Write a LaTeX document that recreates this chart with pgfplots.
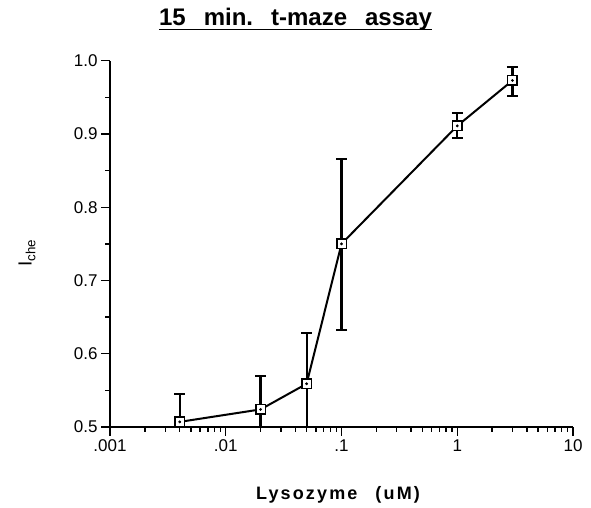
\documentclass[border=0pt]{standalone}
\usepackage{fontspec}
\setmainfont{Liberation Sans}
\usepackage{pgfplots}
\pgfplotsset{compat=1.18}
\usepackage{pgfplotstable}
\pgfplotstableread{
x y ep em
0.004 0.507 0.038 0.038
0.02 0.524 0.046 0.046
0.05 0.559 0.069 0.069
0.1 0.750 0.116 0.117
1 0.911 0.017 0.017
3 0.973 0.018 0.021
}\datatable
\begin{document}
\begin{tikzpicture}
\useasboundingbox (0,0) rectangle (591pt,508pt);
\begin{axis}[
  at={(110pt,81pt)}, anchor=south west,
  scale only axis, width=463pt, height=366.3pt,
  xmode=log, xmin=0.001, xmax=10,
  ymin=0.5, ymax=1.0,
  axis x line=bottom, axis y line=left,
  axis line style={-, line width=1.8pt},
  every tick/.style={black, line width=1.4pt},
  tick align=outside,
  major tick length=9pt, minor tick length=5pt,
  xtick={0.001,0.01,0.1,1,10},
  xticklabels={.001,.01,.1,1,10},
  ytick={0.5,0.6,0.7,0.8,0.9,1.0},
  minor ytick={0.55,0.65,0.75,0.85,0.95},
  yticklabel style={/pgf/number format/.cd, fixed, fixed zerofill, precision=1},
  /pgf/number format/assume math mode=true,
  ticklabel style={font=\fontsize{17}{20}\selectfont},
  clip=true,
]
\addplot[black, line width=2pt, mark=square*, mark size=4.8pt,
  mark options={fill=white, line width=1.6pt},
  error bars/.cd, y dir=both, y explicit,
  error bar style={line width=2.2pt, black},
  error mark options={rotate=90, mark size=5.5pt, line width=2pt}]
  table[x=x, y=y, y error plus=ep, y error minus=em] {\datatable};
\addplot[only marks, black, mark=*, mark size=1.2pt] table[x=x, y=y] {\datatable};
\end{axis}
\node[font=\fontsize{24}{28}\selectfont\bfseries, inner sep=0pt, anchor=base] (T) at (295.5pt,482pt)
  {15\hspace{0.75em}min.\hspace{0.75em}t-maze\hspace{0.75em}assay};
\draw[line width=1.6pt] ([yshift=-3.5pt]T.base west) -- ([yshift=-3.5pt]T.base east);
\node[font=\fontsize{18}{21}\selectfont\bfseries] at (338pt,13pt)
  {\addfontfeature{LetterSpace=12}Lysozyme\hspace{1em}(uM)};
\node[rotate=90, font=\fontsize{19}{22}\selectfont] at (27pt,255pt) {I\textsubscript{che}};
\end{tikzpicture}
\end{document}
